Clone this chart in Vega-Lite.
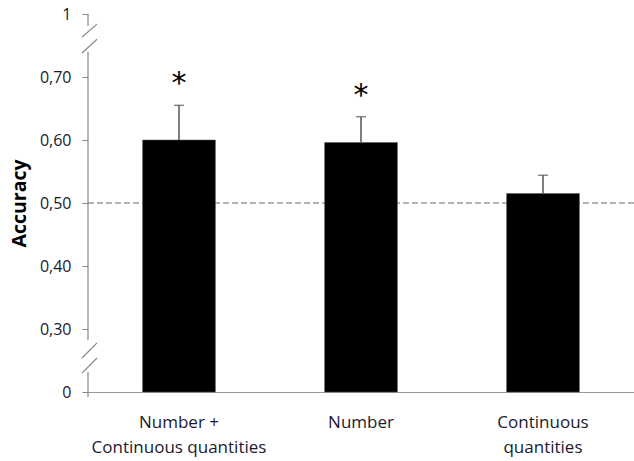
{
  "$schema": "https://vega.github.io/schema/vega-lite/v6.json",
  "width": 546,
  "height": 378,
  "autosize": {"type": "none"},
  "padding": {"left": 88, "top": 14, "right": 0, "bottom": 69},
  "background": "white",
  "config": {
    "view": {"stroke": null},
    "font": "Open Sans",
    "axis": {"labelFont": "Open Sans", "titleFont": "Open Sans", "labelColor": "#1a1a2e", "titleColor": "#000", "domainColor": "#888", "tickColor": "#888", "grid": false}
  },
  "data": {
    "values": [
      {"condition": "Number + Continuous quantities", "accuracy": 0.600, "upper": 0.655, "sig": "*"},
      {"condition": "Number", "accuracy": 0.596, "upper": 0.637, "sig": "*"},
      {"condition": "Continuous quantities", "accuracy": 0.515, "upper": 0.544, "sig": ""}
    ]
  },
  "resolve": {"scale": {"x": "independent"}, "axis": {"x": "independent"}},
  "layer": [
    {
      "layer": [
        {
          "mark": {"type": "rule", "color": "#666", "strokeDash": [6, 3], "strokeWidth": 1},
          "data": {"values": [{}]},
          "encoding": {"y": {"datum": 0.5, "type": "quantitative"}}
        },
        {
          "mark": {"type": "bar", "color": "#000", "stroke": "#555", "strokeWidth": 0.5},
          "encoding": {
            "x": {
              "field": "condition", "type": "nominal", "sort": null,
              "scale": {"paddingInner": 0.6, "paddingOuter": 0.3},
              "axis": {
                "title": null, "labelAngle": 0, "ticks": false, "labelPadding": 30,
                "labelFontSize": 17, "labelLineHeight": 25, "labelBaseline": "middle",
                "domainColor": "#999", "domainWidth": 1.2,
                "labelExpr": "datum.value == 'Number + Continuous quantities' ? ['Number +', 'Continuous quantities'] : datum.value == 'Continuous quantities' ? ['Continuous', 'quantities'] : datum.value"
              }
            },
            "y": {
              "field": "accuracy", "type": "quantitative",
              "scale": {"domain": [0.2, 0.8], "nice": false, "zero": false},
              "axis": {
                "title": "Accuracy", "titleFontSize": 19.5, "titleFontWeight": "bold", "titlePadding": 10,
                "domain": false, "tickSize": 6, "labelPadding": 11, "labelFontSize": 16,
                "values": [0.2, 0.3, 0.4, 0.5, 0.6, 0.7, 0.8],
                "labelExpr": "datum.value < 0.25 ? '0' : datum.value > 0.75 ? '1' : replace(format(datum.value, '.2f'), '.', ',')"
              }
            },
            "y2": {"datum": 0.2}
          }
        },
        {
          "mark": {"type": "rule", "color": "#555", "strokeWidth": 1.5},
          "encoding": {
            "x": {"field": "condition", "type": "nominal", "sort": null},
            "y": {"field": "accuracy", "type": "quantitative"},
            "y2": {"field": "upper"}
          }
        },
        {
          "mark": {"type": "tick", "color": "#555", "thickness": 1.5, "size": 10},
          "encoding": {
            "x": {"field": "condition", "type": "nominal", "sort": null},
            "y": {"field": "upper", "type": "quantitative"}
          }
        },
        {
          "mark": {"type": "text", "fontSize": 30, "font": "DejaVu Sans", "baseline": "middle", "dy": -21, "color": "#000"},
          "encoding": {
            "x": {"field": "condition", "type": "nominal", "sort": null},
            "y": {"field": "upper", "type": "quantitative"},
            "text": {"field": "sig"}
          }
        }
      ]
    },
    {
      "data": {"values": [{}]},
      "encoding": {
        "x": {"datum": 0, "type": "quantitative", "scale": {"domain": [0, 1]}, "axis": null}
      },
      "layer": [
        {"mark": {"type": "rule", "color": "#888", "strokeWidth": 1.2}, "encoding": {"y": {"datum": 0.192, "type": "quantitative"}, "y2": {"datum": 0.2317}}},
        {"mark": {"type": "rule", "color": "#888", "strokeWidth": 1.2}, "encoding": {"y": {"datum": 0.2825, "type": "quantitative"}, "y2": {"datum": 0.7397}}},
        {"mark": {"type": "rule", "color": "#888", "strokeWidth": 1.2}, "encoding": {"y": {"datum": 0.781, "type": "quantitative"}, "y2": {"datum": 0.8}}},
        {"mark": {"type": "rule", "color": "#888", "strokeWidth": 1.2}, "encoding": {"x": {"datum": -0.011, "type": "quantitative"}, "x2": {"datum": 0.0165}, "y": {"datum": 0.254, "type": "quantitative"}, "y2": {"datum": 0.278}}},
        {"mark": {"type": "rule", "color": "#888", "strokeWidth": 1.2}, "encoding": {"x": {"datum": -0.011, "type": "quantitative"}, "x2": {"datum": 0.0165}, "y": {"datum": 0.230, "type": "quantitative"}, "y2": {"datum": 0.254}}},
        {"mark": {"type": "rule", "color": "#888", "strokeWidth": 1.2}, "encoding": {"x": {"datum": -0.011, "type": "quantitative"}, "x2": {"datum": 0.0165}, "y": {"datum": 0.7635, "type": "quantitative"}, "y2": {"datum": 0.784}}},
        {"mark": {"type": "rule", "color": "#888", "strokeWidth": 1.2}, "encoding": {"x": {"datum": -0.011, "type": "quantitative"}, "x2": {"datum": 0.0165}, "y": {"datum": 0.738, "type": "quantitative"}, "y2": {"datum": 0.760}}}
      ]
    }
  ]
}
